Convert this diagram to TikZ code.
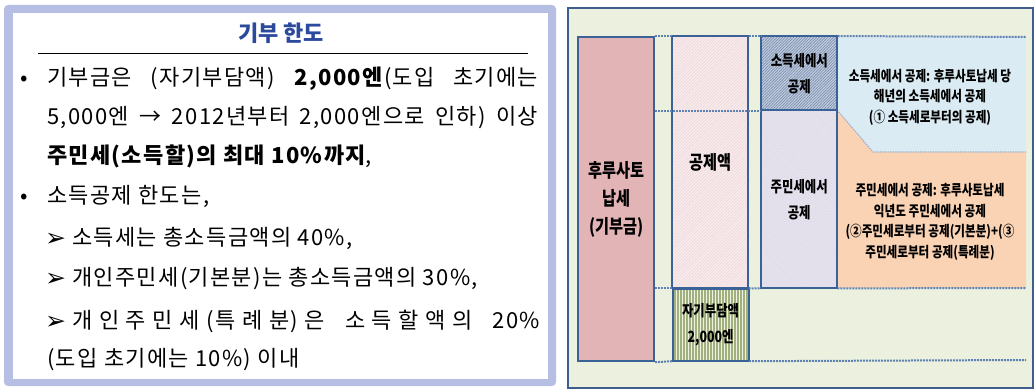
\documentclass[tikz,border=0pt]{standalone}
\usepackage{fontspec}
\usetikzlibrary{patterns.meta}
\newfontfamily\kr[LetterSpace=6]{Noto Sans CJK KR}
\newfontfamily\krt{Noto Sans CJK KR}
\newfontfamily\krc[FakeStretch=0.8]{Noto Sans CJK KR}
\newfontfamily\djv{DejaVu Sans}
\definecolor{frameL}{HTML}{B6BFE3}
\definecolor{titleblue}{HTML}{2B4A9B}
\definecolor{bgR}{HTML}{EBF1DE}
\definecolor{borderR}{HTML}{3E5E8E}
\definecolor{colB}{HTML}{3A6297}
\definecolor{pinkA}{HTML}{E3B4B6}
\definecolor{pinkB}{HTML}{F8ECED}
\definecolor{pinkH}{HTML}{EDD3D6}
\definecolor{greenB}{HTML}{EEF2E0}
\definecolor{greenH}{HTML}{A2AF7E}
\definecolor{greyB}{HTML}{C2CCDE}
\definecolor{greyH}{HTML}{7D90B0}
\definecolor{lavB}{HTML}{E8E4EF}
\definecolor{lavH}{HTML}{D8D4E3}
\definecolor{lblue}{HTML}{DBEBF3}
\definecolor{orangeB}{HTML}{FAD3B4}
\definecolor{dotc}{HTML}{5E81B3}
\tikzset{
  lt/.style={anchor=base west, inner sep=0pt, font=\kr\fontsize{22}{26}\selectfont},
  arr/.style={anchor=base west, inner sep=0pt, font=\djv\bfseries\fontsize{25}{28}\selectfont},
  colbox/.style={draw=colB, line width=2.2pt, anchor=north west, inner sep=0pt, align=center,
     font=\krc\bfseries\fontsize{15.5}{26}\selectfont},
  bigtext/.style={font=\krc\bfseries\fontsize{19}{28}\selectfont},
  rt/.style={align=center, inner sep=0pt, font=\krc\bfseries\fontsize{14.5}{20.5}\selectfont},
  dotline/.style={draw=dotc, line width=2pt, dash pattern=on 2pt off 1pt},
  thindot/.style={draw=dotc!60, line width=1.2pt, dash pattern=on 1.5pt off 1pt}
}
\begin{document}
\begin{tikzpicture}[x=1pt,y=-1pt]
\useasboundingbox (0,0) rectangle (1034,390);
% ---------- left panel ----------
\fill[frameL, rounded corners=4pt] (4,5) rectangle (556,386);
\fill[white] (13,13) rectangle (548,379);
\node[font=\krt\bfseries\fontsize{22}{26}\selectfont, text=titleblue, inner sep=0pt] (title) at (281,33) {기부 한도};
\draw[line width=1pt] (38,54) -- (528,54);
\node[lt] (b1) at (20,86) {•};
\node[lt] (l1) at (47,86) {\makebox[491pt][s]{기부금은 (자기부담액) \textbf{2,000엔}(도입 초기에는}};
\node[lt] (l2) at (47,125) {\makebox[491pt][s]{5,000엔 → 2012년부터 2,000엔으로 인하) 이상}};
\node[lt] (l3) at (47,164) {\textbf{주민세(소득할)의 최대 10\%까지},};
\node[lt] (b2) at (20,204) {•};
\node[lt] (l4) at (47,204) {소득공제 한도는,};
\node[arr] (a1) at (45,247) {➢};
\node[lt] (l5) at (72,246) {소득세는 총소득금액의 40\%,};
\node[arr] (a2) at (45,287) {➢};
\node[lt] (l6) at (72,286) {개인주민세(기본분)는 총소득금액의 30\%,};
\node[arr] (a3) at (45,329) {➢};
\node[lt] (l7) at (72,328) {\makebox[468pt][s]{개\hfill 인\hfill 주\hfill 민\hfill 세\hfill (특\hfill 례\hfill 분)\hfill 은\hfill\hfill\hfill 소\hfill 득\hfill 할\hfill 액\hfill 의\hfill\hfill\hfill 20\%}};
\node[lt] (l8) at (47,366) {(도입 초기에는 10\%) 이내};
% ---------- right panel ----------
\draw[fill=bgR, draw=borderR, line width=2.4pt] (568,8) rectangle (1033,388);
\coordinate (p1) at (837,37);
\coordinate (p2) at (1026,37);
\coordinate (p3) at (1026,152);
\coordinate (p4) at (873,152);
\coordinate (p5) at (837,110);
\coordinate (p6) at (1026,288);
\coordinate (p7) at (837,288);
\coordinate (p8) at (1026,360);
\fill[lblue] (p1) -- (p2) -- (p3) -- (p4) -- (p5) -- cycle;
\fill[orangeB] (p5) -- (p4) -- (p3) -- (p6) -- (p7) -- cycle;
\draw[thindot] (p5) -- (p4) -- (p3);
\node[colbox, bigtext, fill=pinkA, minimum width=76pt, minimum height=324pt] (c1) at (577,36)
  {후루사토\\납세\\(기부금)};
\node[colbox, bigtext, preaction={fill=pinkB}, pattern={Lines[angle=45,distance=2.2pt,line width=0.5pt]}, pattern color=pinkH,
  minimum width=76pt, minimum height=252pt] (c2) at (672,36) {공제액};
\node[colbox, preaction={fill=greenB}, pattern={Lines[angle=90,distance=3pt,line width=1.2pt]}, pattern color=greenH,
  minimum width=76pt, minimum height=72pt] (c2b) at (672,288) {자기부담액\\2,000엔};
\node[colbox, preaction={fill=greyB}, pattern={Lines[angle=45,distance=2pt,line width=0.7pt]}, pattern color=greyH,
  minimum width=76pt, minimum height=74pt] (c3a) at (761,36) {소득세에서\\공제};
\node[colbox, preaction={fill=lavB}, pattern={Lines[angle=-45,distance=2pt,line width=0.4pt]}, pattern color=lavH,
  minimum width=76pt, minimum height=178pt] (c3b) at (761,110) {주민세에서\\공제};
% dotted guide lines
\draw[dotline] (c1.north east) -- (c2.north west);
\draw[dotline] (c2.north east) -- (c3a.north west);
\draw[dotline] (c3a.north east) -- (p2);
\draw[dotline] (c1.east |- c3a.south) -- (c3a.south west);
\draw[dotline] (c1.east |- c2.south) -- (c2.south west);
\draw[dotline] (c2.south east) -- (c3b.south west);
\draw[dotline] (c3b.south east) -- (p6);
\draw[dotline] (c1.south east) -- (c2b.south west);
\draw[dotline] (c2b.south east) -- (p8);
% descriptions
\node[rt] (t1) at (930,97) {소득세에서 공제: 후루사토납세 당\\해년의 소득세에서 공제\\(① 소득세로부터의 공제)};
\node[rt] (t2) at (930,222) {주민세에서 공제: 후루사토납세\\익년도 주민세에서 공제\\(②주민세로부터 공제(기본분)+(③\\주민세로부터 공제(특례분)};
\end{tikzpicture}
\end{document}
